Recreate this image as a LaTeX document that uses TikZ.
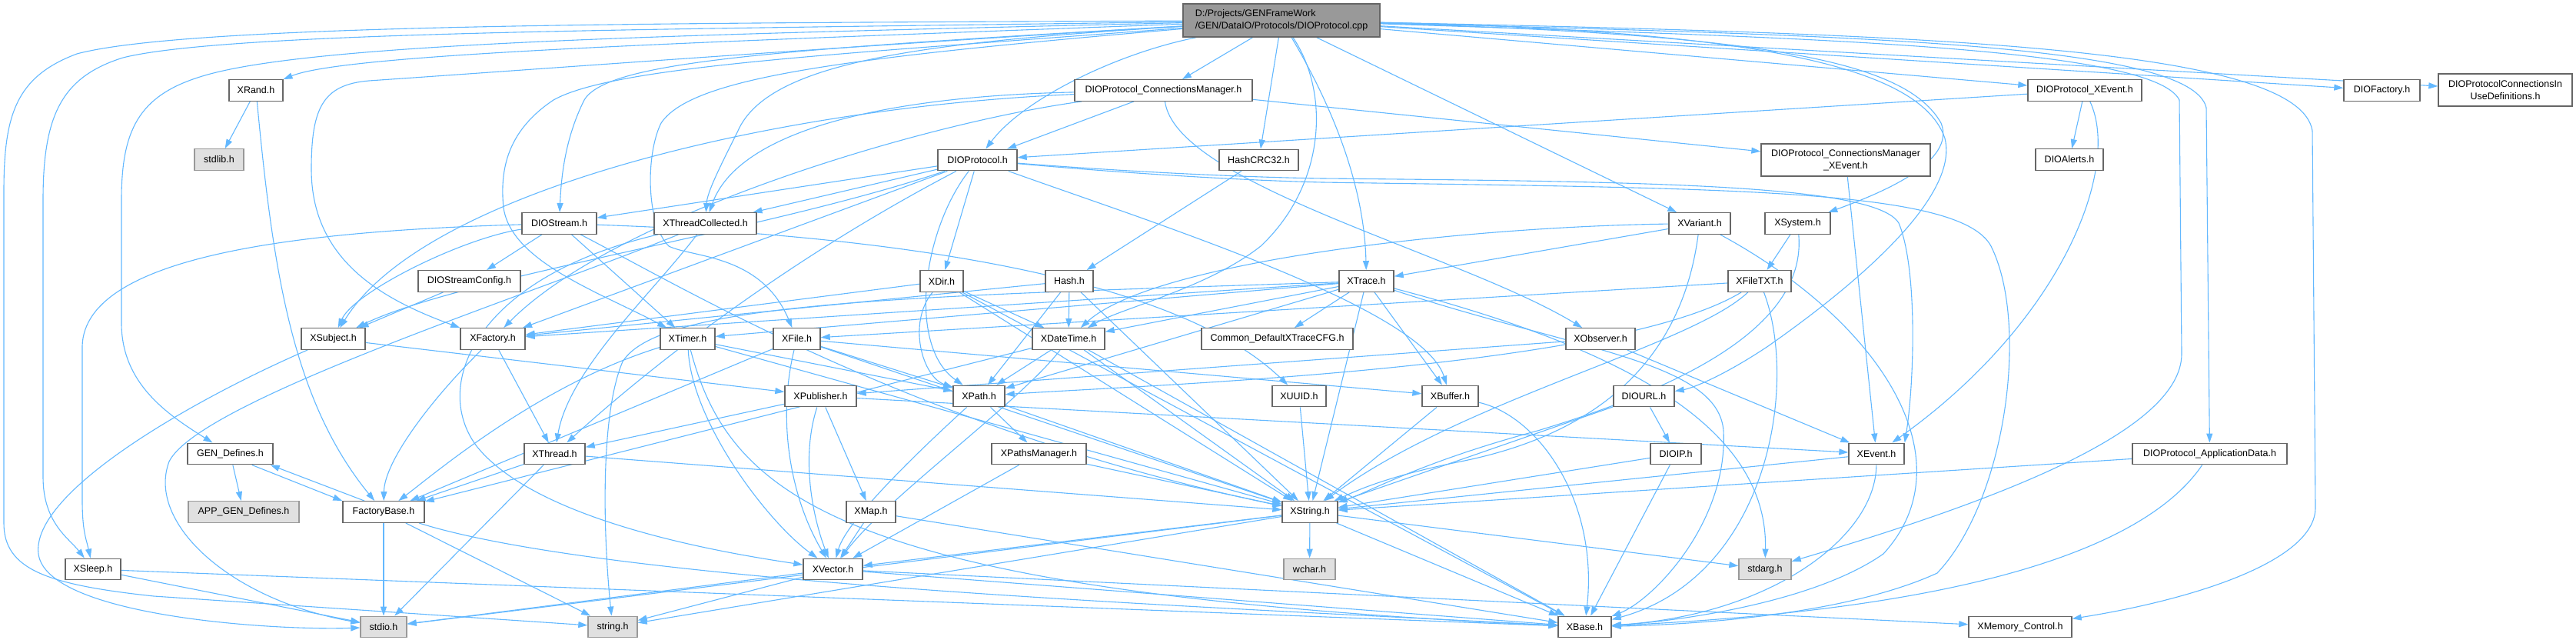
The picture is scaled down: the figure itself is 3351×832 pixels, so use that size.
\documentclass[tikz,border=0pt]{standalone}
\usepackage{fontspec}
\setmainfont{Liberation Sans}
\usetikzlibrary{arrows.meta}
\pgfdeclarelayer{bg}
\pgfsetlayers{bg,main}
\definecolor{lineblue}{HTML}{63B8FF}
\definecolor{bordergray}{HTML}{666666}
\definecolor{lightborder}{HTML}{999999}
\definecolor{grayfill}{HTML}{E0E0E0}
\definecolor{mainfill}{HTML}{999999}
\tikzset{
  box/.style={draw=bordergray, line width=1.4pt, fill=white, rectangle, inner sep=0pt,
    minimum height=27.5pt, font=\fontsize{12.5}{16}\selectfont, text=black},
  graybox/.style={box, draw=lightborder, fill=grayfill},
  mainbox/.style={box, fill=mainfill, minimum height=43pt, align=left},
  twobox/.style={box, minimum height=42pt, align=center},
  dep/.style={draw=lineblue, line width=1.1pt, -{Triangle[length=12pt,width=8pt]}}
}
\begin{document}
\begin{tikzpicture}[x=1pt,y=-1pt]
\useasboundingbox (0,0) rectangle (3351,832);
% nodes
\node[mainbox, minimum width=256pt] (main) at (1667,26.5) {D:/Projects/GENFrameWork\\/GEN/DataIO/Protocols/DIOProtocol.cpp};
\node[box, minimum width=70pt] (xrand) at (333,117.5) {XRand.h};
\node[graybox, minimum width=64pt] (stdlib) at (285,207.5) {stdlib.h};
\node[box, minimum width=97pt] (dstream) at (727.5,290.5) {DIOStream.h};
\node[box, minimum width=133pt] (dsconf) at (610.5,365.5) {DIOStreamConfig.h};
\node[box, minimum width=231pt] (cm) at (1513.5,117.5) {DIOProtocol\_ConnectionsManager.h};
\node[box, minimum width=103pt] (dp) at (1271.5,208) {DIOProtocol.h};
\node[box, minimum width=103pt] (crc) at (1637.5,208) {HashCRC32.h};
\node[box, minimum width=133pt] (xtc) at (917.5,290.5) {XThreadCollected.h};
\node[box, minimum width=56pt] (xdir) at (1225,365.5) {XDir.h};
\node[box, minimum width=62pt] (hash) at (1391,365.5) {Hash.h};
\node[twobox, minimum width=220pt] (cmx) at (2401,208) {DIOProtocol\_ConnectionsManager\\\_XEvent.h};
\node[box, minimum width=80pt] (xvar) at (2211,290.5) {XVariant.h};
\node[box, minimum width=85pt] (xsys) at (2338.5,290.5) {XSystem.h};
\node[box, minimum width=71pt] (xtrace) at (1777.5,365.5) {XTrace.h};
\node[box, minimum width=82pt] (xftxt) at (2289,365.5) {XFileTXT.h};
\node[box, minimum width=148pt] (dx) at (2712,117.5) {DIOProtocol\_XEvent.h};
\node[box, minimum width=88pt] (dalerts) at (2692,207.5) {DIOAlerts.h};
\node[box, minimum width=99pt] (dfact) at (3098.5,117.5) {DIOFactory.h};
\node[twobox, minimum width=174pt] (inuse) at (3259,117) {DIOProtocolConnectionsIn\\UseDefinitions.h};
\node[box, minimum width=83pt] (xsubj) at (433.5,440.5) {XSubject.h};
\node[box, minimum width=84pt] (xfact) at (641,440.5) {XFactory.h};
\node[box, minimum width=111pt] (gen) at (299.5,590) {GEN\_Defines.h};
\node[box, minimum width=79pt] (xthread) at (721.5,590) {XThread.h};
\node[graybox, minimum width=144pt] (appgen) at (317,665.5) {APP\_GEN\_Defines.h};
\node[box, minimum width=106pt] (fbase) at (499,665.5) {FactoryBase.h};
\node[box, minimum width=72pt] (xsleep) at (121,740) {XSleep.h};
\node[graybox, minimum width=60pt] (stdio) at (499,815) {stdio.h};
\node[graybox, minimum width=64pt] (string) at (797,815) {string.h};
\node[box, minimum width=71pt] (xtimer) at (894.5,440.5) {XTimer.h};
\node[box, minimum width=61pt] (xfile) at (1036.5,440.5) {XFile.h};
\node[box, minimum width=94pt] (xdt) at (1390,440.5) {XDateTime.h};
\node[box, minimum width=197pt] (cfg) at (1661.5,440.5) {Common\_DefaultXTraceCFG.h};
\node[box, minimum width=93pt] (xpub) at (1067.5,515) {XPublisher.h};
\node[box, minimum width=67pt] (xpath) at (1273.5,515) {XPath.h};
\node[box, minimum width=70pt] (xuuid) at (1690,515) {XUUID.h};
\node[box, minimum width=123pt] (xpm) at (1351.5,590) {XPathsManager.h};
\node[box, minimum width=64pt] (xmap) at (1133,665.5) {XMap.h};
\node[box, minimum width=77pt] (xvec) at (1083.5,740) {XVector.h};
\node[box, minimum width=72pt] (xstr) at (1704,665.5) {XString.h};
\node[graybox, minimum width=67pt] (wchar) at (1703.5,740) {wchar.h};
\node[box, minimum width=90pt] (xobs) at (2082,440.5) {XObserver.h};
\node[box, minimum width=73pt] (xbuf) at (1886.5,515) {XBuffer.h};
\node[box, minimum width=79pt] (durl) at (2138.5,515) {DIOURL.h};
\node[box, minimum width=66pt] (dip) at (2180,590) {DIOIP.h};
\node[box, minimum width=72pt] (xevent) at (2441,590) {XEvent.h};
\node[graybox, minimum width=68pt] (stdarg) at (2296,740) {stdarg.h};
\node[box, minimum width=69pt] (xbase) at (2061.5,815) {XBase.h};
\node[box, minimum width=201pt] (appdata) at (2874.5,590) {DIOProtocol\_ApplicationData.h};
\node[box, minimum width=134pt] (xmem) at (2628,815) {XMemory\_Control.h};

\begin{pgfonlayer}{bg}
% main
\draw[dep] (main) .. controls (900,55) and (450,70) .. (xrand);
\draw[dep] (main) .. controls (900,38) and (300,40) .. (160,75) .. controls (80,100) and (56,150) .. (56,260) -- (56,620) .. controls (56,680) and (90,700) .. (xsleep);
\draw[dep] (main) .. controls (900,30) and (250,30) .. (100,70) .. controls (20,100) and (5,150) .. (5,250) -- (5,680) .. controls (5,740) and (60,760) .. (200,775) -- (string);
\draw[dep] (main) .. controls (900,45) and (400,55) .. (260,100) .. controls (180,125) and (158,170) .. (158,260) -- (158,420) .. controls (158,500) and (220,540) .. (gen);
\draw[dep] (main) .. controls (1100,60) and (700,90) .. (480,105) .. controls (420,110) and (405,140) .. (405,220) .. controls (405,340) and (500,390) .. (xfact.north west);
\draw[dep] (main) .. controls (1100,70) and (800,85) .. (720,130) .. controls (660,170) and (650,220) .. (655,270) .. controls (665,340) and (780,380) .. (xtimer);
\draw[dep] (main) .. controls (1000,65) and (790,80) .. (760,130) .. controls (735,180) and (730,230) .. (dstream);
\draw[dep] (main) .. controls (1100,75) and (900,100) .. (860,160) .. controls (840,200) and (840,290) .. (870,320) .. controls (900,335) and (990,330) .. (xfile);
\draw[dep] (main) .. controls (1200,55) and (1000,80) .. (960,170) .. controls (935,220) and (920,250) .. (xtc);
\draw[dep] (main) .. controls (1450,70) and (1330,130) .. (dp);
\draw[dep] (main) -- (cm);
\draw[dep] (main) -- (crc);
\draw[dep] (main) .. controls (1730,120) and (1725,240) .. (1640,320) .. controls (1570,375) and (1460,400) .. (xdt);
\draw[dep] (main) .. controls (1740,150) and (1775,250) .. (xtrace);
\draw[dep] (main) -- (xvar);
\draw[dep] (main) .. controls (2300,45) and (2480,80) .. (2525,160) .. controls (2545,210) and (2450,250) .. (xsys);
\draw[dep] (main) .. controls (2300,40) and (2500,90) .. (2530,180) .. controls (2550,260) and (2400,380) .. (2300,450) .. controls (2240,490) and (2200,505) .. (durl);
\draw[dep] (main) -- (dx);
\draw[dep] (main) -- (dfact);
\draw[dep] (main) -- (inuse);
\draw[dep] (main) .. controls (2300,48) and (2800,58) .. (2835,130) -- (2838,460) .. controls (2838,560) and (2600,650) .. (stdarg);
\draw[dep] (main) .. controls (2400,46) and (2850,55) .. (2870,140) -- (appdata);
\draw[dep] (main) .. controls (2500,44) and (2990,60) .. (3008,170) -- (3012,660) .. controls (3012,730) and (2850,780) .. (xmem);
% connections manager
\draw[dep] (cm) -- (dp);
\draw[dep] (cm) .. controls (1150,125) and (960,170) .. (xtc);
\draw[dep] (cm) .. controls (1000,140) and (550,250) .. (xsubj);
\draw[dep] (cm) .. controls (1200,160) and (800,280) .. (xfact);
\draw[dep] (cm) -- (cmx);
\draw[dep] (cm) .. controls (1530,240) and (1900,330) .. (xobs);
% DIOProtocol
\draw[dep] (dp) -- (dstream);
\draw[dep] (dp) -- (xtc);
\draw[dep] (dp) .. controls (1000,300) and (600,360) .. (xsubj);
\draw[dep] (dp) -- (xfact);
\draw[dep] (dp) -- (xdir);
\draw[dep] (dp) .. controls (1200,300) and (1180,450) .. (xpath);
\draw[dep] (dp) .. controls (1500,290) and (1850,400) .. (xbuf);
\draw[dep] (dp) .. controls (1450,222) and (1600,230) .. (1720,232) .. controls (2150,236) and (2440,240) .. (2470,290) .. controls (2495,350) and (2490,500) .. (xevent.north east);
\draw[dep] (dp) .. controls (1450,224) and (1600,234) .. (1720,237) .. controls (2250,245) and (2550,245) .. (2590,320) .. controls (2640,420) and (2610,650) .. (2520,745) .. controls (2400,800) and (2200,812) .. (xbase);
\draw[dep] (dp) .. controls (1000,350) and (820,500) .. (xthread);
% others top
\draw[dep] (crc) -- (hash);
\draw[dep] (dx) -- (dp);
\draw[dep] (dx) -- (dalerts);
\draw[dep] (dx) .. controls (2760,220) and (2680,420) .. (xevent);
\draw[dep] (cmx) -- (xevent);
\draw[dep] (appdata) -- (xstr);
\draw[dep] (appdata) .. controls (2800,700) and (2600,790) .. (xbase);
% DIOStream
\draw[dep] (dstream) -- (dsconf);
\draw[dep] (dstream) .. controls (600,310) and (460,380) .. (xsubj);
\draw[dep] (dstream) .. controls (400,300) and (110,330) .. (107,450) -- (107,650) .. controls (107,690) and (112,700) .. (xsleep);
\draw[dep] (dstream) -- (xtimer);
\draw[dep] (dstream) .. controls (900,380) and (1200,560) .. (xstr);
\draw[dep] (dstream) .. controls (1000,300) and (1500,330) .. (xuuid);
\draw[dep] (dsconf) -- (xsubj);
% XThreadCollected
\draw[dep] (xtc) .. controls (850,380) and (740,480) .. (xthread);
\draw[dep] (xtc) .. controls (700,380) and (260,520) .. (220,600) .. controls (190,680) and (300,780) .. (stdio);
\draw[dep] (xtc) .. controls (620,360) and (560,500) .. (620,580) .. controls (700,680) and (950,720) .. (xvec);
% left part
\draw[dep] (xrand) -- (stdlib);
\draw[dep] (xrand) .. controls (355,350) and (380,520) .. (fbase);
\draw[dep] (gen) -- (appgen);
\draw[dep] ([xshift=-28pt]gen.south east) -- (fbase.north west);
\draw[dep] ([xshift=-25pt]fbase.north) -- ([xshift=-4pt]gen.south east);
\draw[dep] (fbase) -- (stdio);
\draw[dep] (fbase) -- (string);
\draw[dep] (fbase) .. controls (800,760) and (1600,790) .. (xbase);
\draw[dep] (xsleep) -- (stdio);
\draw[dep] (xsleep) -- (xbase);
\draw[dep] (xsubj) .. controls (250,520) and (40,640) .. (50,720) .. controls (60,800) and (350,820) .. (stdio);
\draw[dep] (xsubj) -- (xpub);
\draw[dep] (xfact) -- (xthread);
\draw[dep] (xfact) .. controls (560,520) and (500,600) .. (fbase);
\draw[dep] (xthread) -- (fbase);
\draw[dep] (xthread) -- (stdio);
\draw[dep] (xthread) -- (xstr);
% XTimer
\draw[dep] (xtimer) .. controls (700,500) and (560,620) .. (fbase);
\draw[dep] (xtimer) -- (xpath);
\draw[dep] (xtimer) -- (xstr);
\draw[dep] (xtimer) .. controls (900,550) and (1000,680) .. (xvec);
\draw[dep] (xtimer) .. controls (950,650) and (1100,770) .. (xbase);
% XFile
\draw[dep] (xfile) -- (fbase);
\draw[dep] (xfile) -- (xpath);
\draw[dep] (xfile) .. controls (1010,550) and (1030,650) .. (xvec);
\draw[dep] (xfile) -- (xbuf);
\draw[dep] (xfile) -- (xstr);
% XDir
\draw[dep] (xdir) -- (xfact);
\draw[dep] (xdir) .. controls (1180,420) and (1200,490) .. (xpath);
\draw[dep] (xdir) -- (xdt);
\draw[dep] (xdir) -- (xstr);
\draw[dep] (xdir) -- (xbase);
% Hash
\draw[dep] (hash) -- (xfact);
\draw[dep] (hash) -- (xdt);
\draw[dep] (hash) -- (xpath);
\draw[dep] (hash) -- (xstr);
% XDateTime
\draw[dep] (xdt) -- (fbase);
\draw[dep] (xdt) -- (xpath);
\draw[dep] (xdt) .. controls (1330,520) and (1150,650) .. (xvec);
\draw[dep] (xdt) -- (xstr);
\draw[dep] (xdt) -- (xbase);
% XTrace
\draw[dep] (xtrace) -- (xfact);
\draw[dep] (xtrace) -- (xtimer);
\draw[dep] (xtrace) -- (xdt);
\draw[dep] (xtrace) -- (cfg);
\draw[dep] (xtrace) -- (xpath);
\draw[dep] (xtrace) -- (xbuf);
\draw[dep] (xtrace) -- (xstr);
\draw[dep] (xtrace) .. controls (2050,455) and (2235,470) .. (2242,560) .. controls (2248,680) and (2150,780) .. (xbase);
\draw[dep] (xtrace) .. controls (2100,450) and (2300,550) .. (stdarg);
\draw[dep] (xtrace) .. controls (1200,385) and (860,390) .. (810,470) .. controls (780,540) and (785,700) .. (string);
% XVariant, XSystem, XFileTXT
\draw[dep] (xvar) -- (xtrace);
\draw[dep] (xvar) .. controls (1900,295) and (1500,340) .. (xdt);
\draw[dep] (xvar) .. controls (2190,450) and (2100,560) .. (1900,600) .. controls (1800,620) and (1760,640) .. (xstr);
\draw[dep] (xvar) .. controls (2450,420) and (2560,600) .. (2450,720) .. controls (2350,790) and (2150,810) .. (xbase);
\draw[dep] (xsys) -- (xftxt);
\draw[dep] (xsys) .. controls (2350,420) and (2200,500) .. (2000,560) .. controls (1850,600) and (1780,640) .. (xstr);
\draw[dep] (xftxt) -- (xfile);
\draw[dep] (xftxt) .. controls (2100,480) and (1500,500) .. (xpath);
\draw[dep] (xftxt) .. controls (2200,450) and (1900,520) .. (xstr);
\draw[dep] (xftxt) .. controls (2340,500) and (2300,750) .. (xbase);
% middle
\draw[dep] (xpub) -- (xthread);
\draw[dep] (xpub) .. controls (1040,600) and (1060,680) .. (xvec);
\draw[dep] (xpub) -- (xmap);
\draw[dep] (xpub) -- (xevent);
\draw[dep] (xpath) -- (xpm);
\draw[dep] (xpath) .. controls (1180,600) and (1100,680) .. (xvec);
\draw[dep] (xpath) -- (xstr);
\draw[dep] (xpm) -- (xvec);
\draw[dep] (xpm) -- (xstr);
\draw[dep] (xuuid) -- (xstr);
\draw[dep] (xbuf) -- (xstr);
\draw[dep] (xbuf) .. controls (2000,540) and (2080,650) .. (xbase);
\draw[dep] (xobs) -- (xpub);
\draw[dep] (xobs) -- (xevent);
\draw[dep] (durl) -- (dip);
\draw[dep] (durl) -- (xstr);
\draw[dep] (dip) -- (xstr);
\draw[dep] (dip) -- (xbase);
\draw[dep] (xevent) -- (xstr);
\draw[dep] (xevent) .. controls (2440,700) and (2300,800) .. (xbase);
\draw[dep] (xmap) -- (xvec);
\draw[dep] (xmap) -- (xbase);
\draw[dep] (xvec) -- (xbase);
\draw[dep] (xvec) -- (xmem);
\draw[dep] (xvec) -- (stdio);
\draw[dep] (xvec) -- (string);
\draw[dep] (xstr) -- (xvec);
\draw[dep] (xstr) -- (wchar);
\draw[dep] (xstr) -- (stdarg);
\draw[dep] (xstr) -- (xbase);
\draw[dep] (xstr) -- (stdio);
\draw[dep] (xstr) -- (string);
\end{pgfonlayer}
\end{tikzpicture}
\end{document}
